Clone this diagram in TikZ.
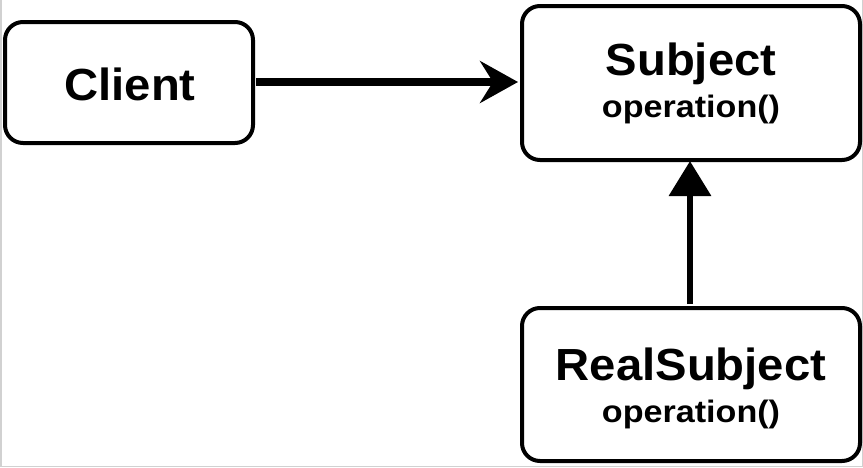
\documentclass[tikz,border=0pt]{standalone}
\usepackage{fontspec}
\setmainfont{Liberation Sans}
\newfontfamily\titlefamily[FakeStretch=1.05]{Liberation Sans}
\newfontfamily\opfamily[FakeStretch=1.1]{Liberation Sans}
\usetikzlibrary{arrows.meta}
\tikzset{
  box/.style={draw=black, line width=4pt, rounded corners=18pt, fill=white, inner sep=0pt, outer sep=0pt},
  titletext/.style={font=\titlefamily\bfseries\fontsize{45}{54}\selectfont, inner sep=0pt, anchor=base},
  optext/.style={font=\opfamily\bfseries\fontsize{31}{37}\selectfont, inner sep=0pt, anchor=base},
  callarrow/.style={line width=8pt, -{Stealth[length=38pt,width=42pt,inset=13pt]}},
  inhertarrow/.style={line width=6.5pt, -{Triangle[length=35pt,width=41pt]}},
  frame/.style={draw=black!18, line width=1.5pt}
}
\begin{document}
\begin{tikzpicture}[x=1pt,y=-1pt]
  \useasboundingbox (0,0) rectangle (863,467);
  \draw[frame] (0.75,0) -- (0.75,466.25) -- (862.25,466.25) -- (862.25,0);
  % boxes
  \node[box, minimum width=248pt, minimum height=121pt] (client) at (129,82.5) {};
  \node[box, minimum width=338pt, minimum height=154pt] (subject) at (691,83) {};
  \node[box, minimum width=338pt, minimum height=153pt] (real) at (691,384.5) {};
  % texts
  \node[titletext] (clientt) at (130,100) {Client};
  \node[titletext] (subjectt) at (691,75) {Subject};
  \node[optext] (subjecto) at (691,117) {operation()};
  \node[titletext] (realt) at (691,380) {RealSubject};
  \node[optext] (realo) at (691,422) {operation()};
  % connectors
  \draw[callarrow, shorten <=3pt, shorten >=4pt] (client.east |- 0,82) -- (subject.west |- 0,82);
  \draw[inhertarrow, shorten <=4pt, shorten >=1pt] (real.north -| 690,0) -- (subject.south -| 690,0);
\end{tikzpicture}
\end{document}
